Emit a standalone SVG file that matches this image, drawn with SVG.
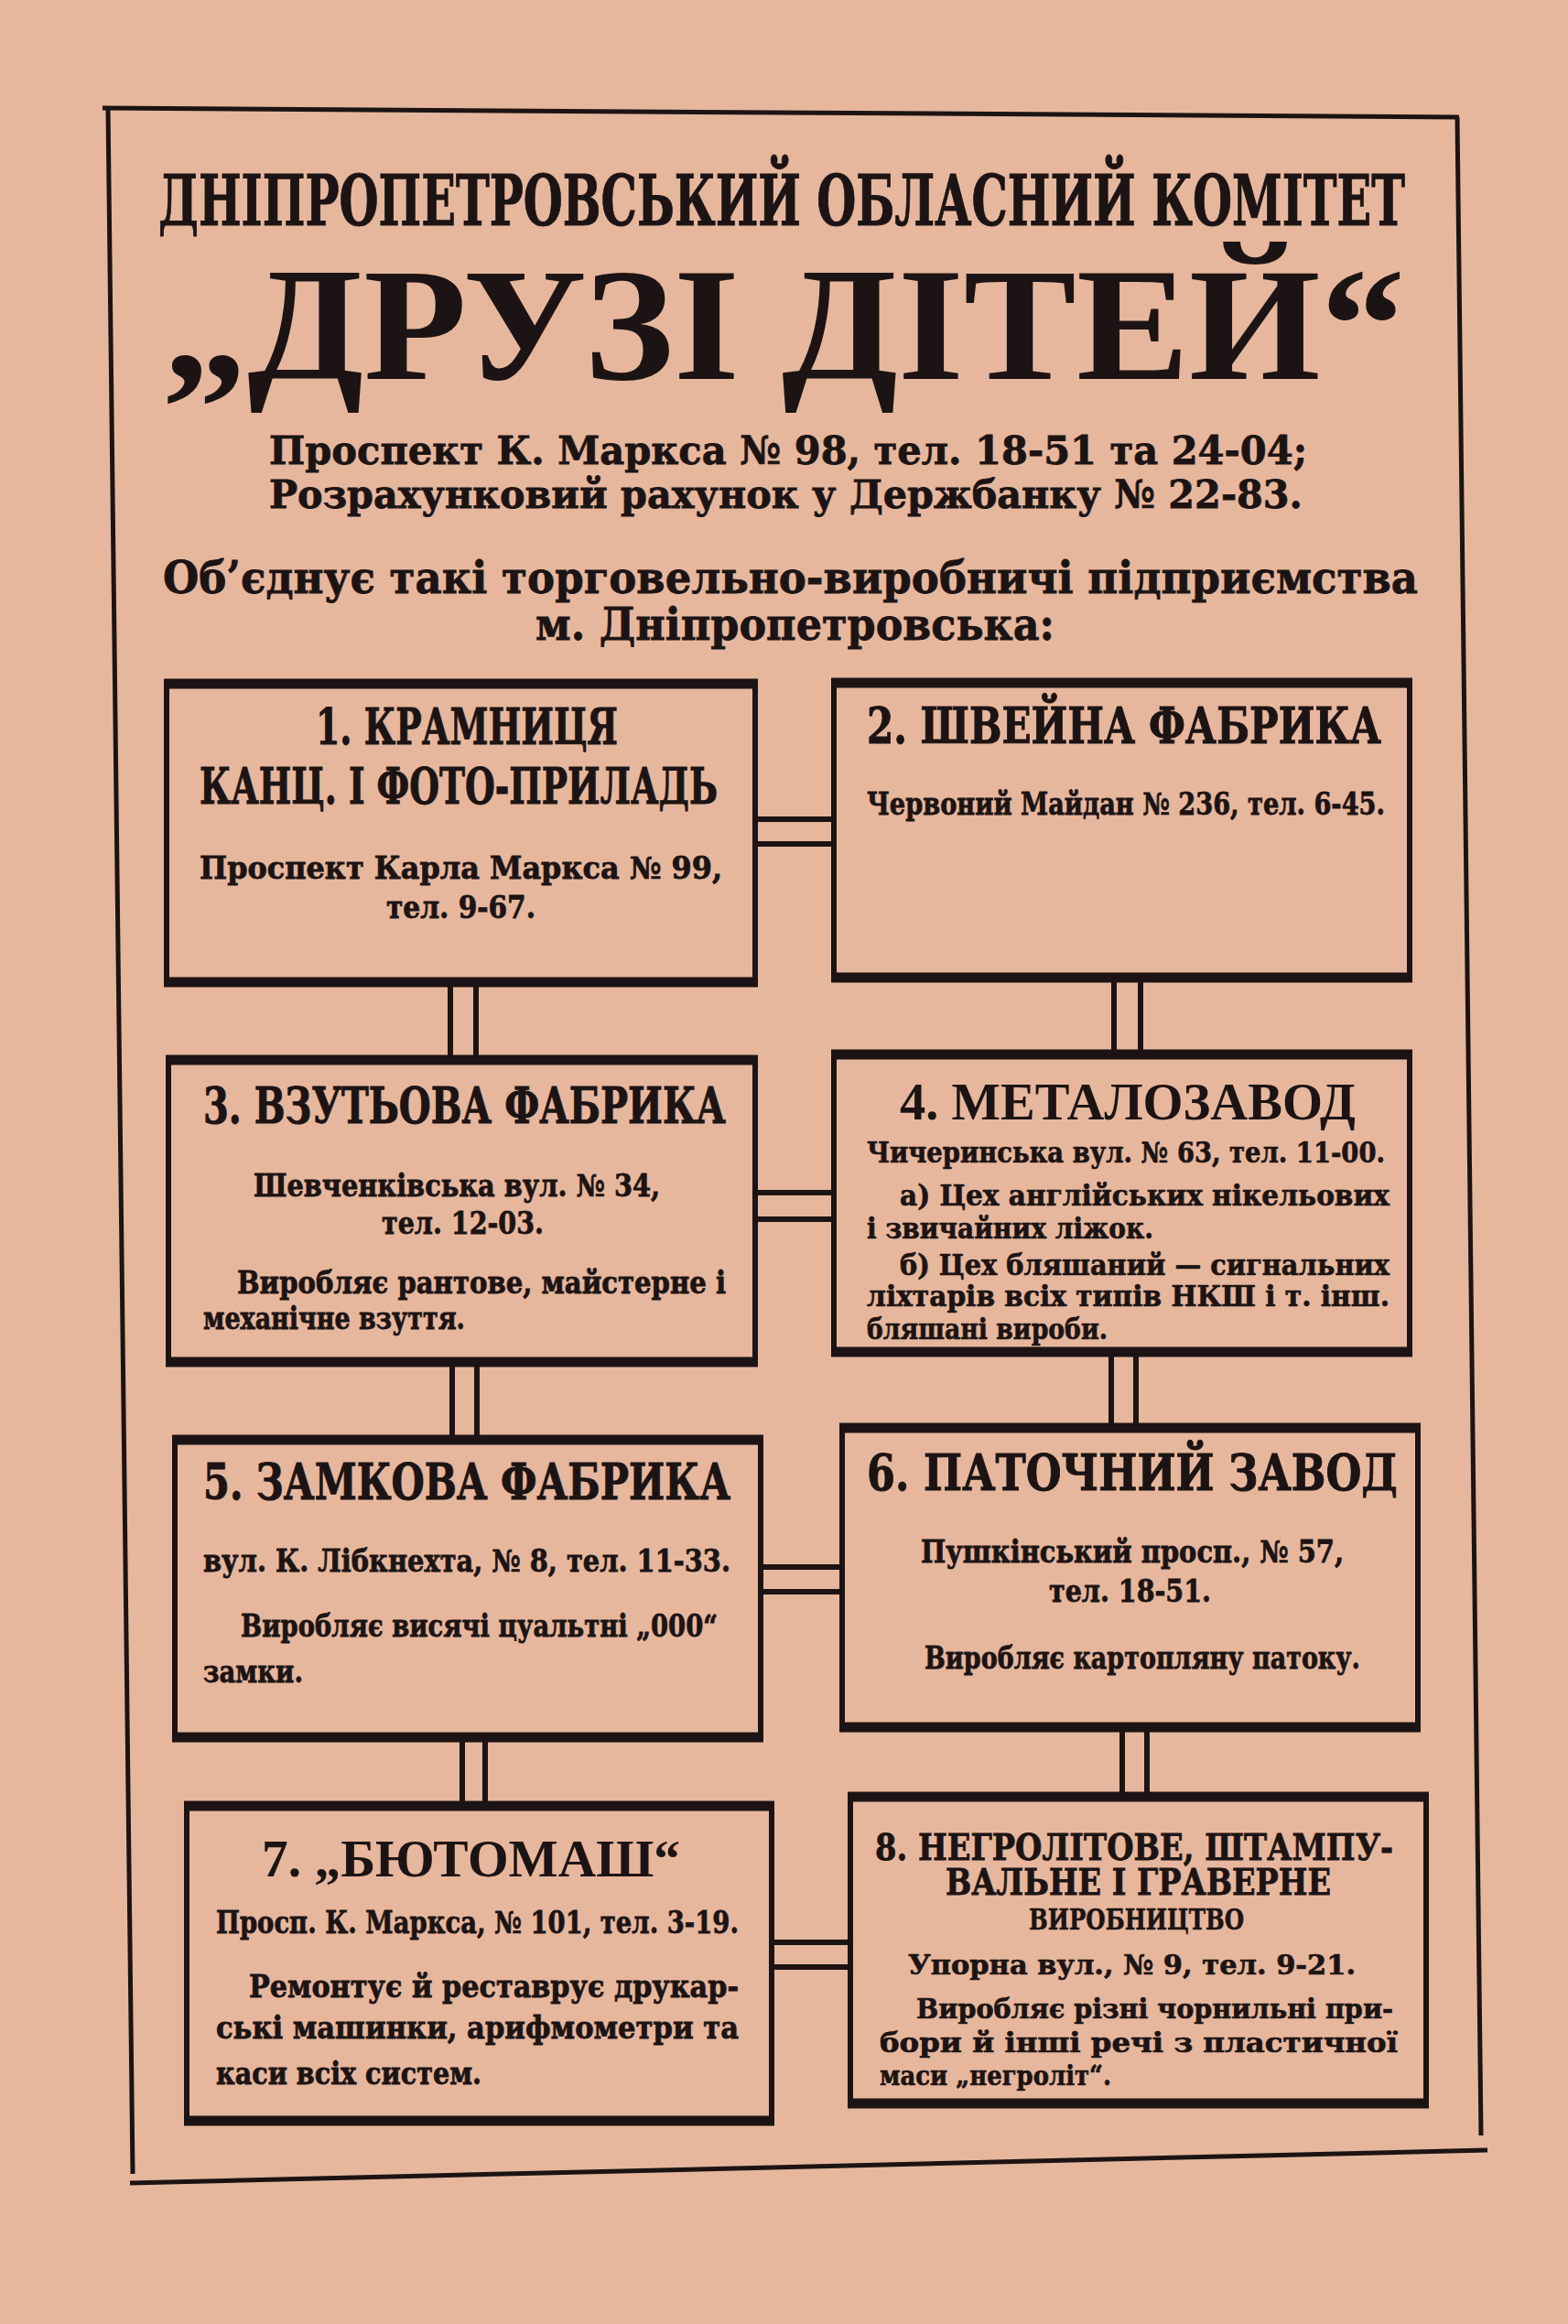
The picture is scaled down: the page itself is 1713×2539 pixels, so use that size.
<svg xmlns="http://www.w3.org/2000/svg" width="1713" height="2539" viewBox="0 0 1713 2539">
<style>
.bg{fill:#e7b79d}
text{font-family:"DejaVu Serif","Liberation Serif",serif;font-weight:bold;fill:#1c1414}
.t1{font-size:76px;stroke:#1c1414;stroke-width:1}
.t2{font-family:"Liberation Serif","DejaVu Serif",serif;font-size:175px}
.t3{font-size:43px;stroke:#1c1414;stroke-width:0.8}
.t5{font-size:49px;stroke:#1c1414;stroke-width:0.8}
.hd{font-size:55px;stroke:#1c1414;stroke-width:1}
.hd2{font-family:"Liberation Serif","DejaVu Serif",serif;font-size:58px}
.hd8{font-size:39px;stroke:#1c1414;stroke-width:0.8}
.hd8s{font-size:31px;stroke:#1c1414;stroke-width:0.6}
.bd{font-size:33px;stroke:#1c1414;stroke-width:0.8}
.bd4{font-size:31px;stroke:#1c1414;stroke-width:0.7}
.bd8{font-size:30px;stroke:#1c1414;stroke-width:0.7}
.frame{stroke:#1c1414;fill:none;stroke-width:5}
.box{fill:none;stroke:#1c1414;stroke-width:6}
.edge{stroke:#1c1414;stroke-width:11}
.conn{stroke:#1c1414;stroke-width:6}
</style>
<rect class="bg" x="0" y="0" width="1713" height="2539"/>

<g id="frame">
<line class="frame" x1="112" y1="118" x2="1594" y2="128" stroke-width="6"/>
<line class="frame" x1="118" y1="118" x2="145" y2="2375" stroke-width="4"/>
<line class="frame" x1="1592" y1="128" x2="1618" y2="2333" stroke-width="4"/>
<line class="frame" x1="142" y1="2385" x2="1625" y2="2349" stroke-width="8"/>
</g>

<g id="header">
<text class="t1" x="173" y="246" textLength="1362" lengthAdjust="spacingAndGlyphs">ДНІПРОПЕТРОВСЬКИЙ ОБЛАСНИЙ КОМІТЕТ</text>
<text class="t2" x="178" y="414" textLength="1357" lengthAdjust="spacingAndGlyphs">„ДРУЗІ ДІТЕЙ“</text>
<text class="t3" x="294" y="507" textLength="1134" lengthAdjust="spacingAndGlyphs">Проспект К. Маркса № 98, тел. 18-51 та 24-04;</text>
<text class="t3" x="294" y="555" textLength="1129" lengthAdjust="spacingAndGlyphs">Розрахунковий рахунок у Держбанку № 22-83.</text>
<text class="t5" x="178" y="648" textLength="1371" lengthAdjust="spacingAndGlyphs">Об’єднує такі торговельно-виробничі підприємства</text>
<text class="t5" x="585" y="699" textLength="567" lengthAdjust="spacingAndGlyphs">м. Дніпропетровська:</text>
</g>

<g id="connectors">
<line class="conn" x1="825" y1="895" x2="911" y2="895"/>
<line class="conn" x1="825" y1="922" x2="911" y2="922"/>
<line class="conn" x1="825" y1="1303" x2="911" y2="1303"/>
<line class="conn" x1="825" y1="1332" x2="911" y2="1332"/>
<line class="conn" x1="831" y1="1712" x2="920" y2="1712"/>
<line class="conn" x1="831" y1="1739" x2="920" y2="1739"/>
<line class="conn" x1="843" y1="2122" x2="929" y2="2122"/>
<line class="conn" x1="843" y1="2149" x2="929" y2="2149"/>
<line class="conn" x1="492" y1="1073" x2="492" y2="1158"/>
<line class="conn" x1="520" y1="1073" x2="520" y2="1158"/>
<line class="conn" x1="1217" y1="1068" x2="1217" y2="1152"/>
<line class="conn" x1="1246" y1="1068" x2="1246" y2="1152"/>
<line class="conn" x1="494" y1="1488" x2="494" y2="1573"/>
<line class="conn" x1="521" y1="1488" x2="521" y2="1573"/>
<line class="conn" x1="1214" y1="1477" x2="1214" y2="1560"/>
<line class="conn" x1="1241" y1="1477" x2="1241" y2="1560"/>
<line class="conn" x1="505" y1="1898" x2="505" y2="1973"/>
<line class="conn" x1="530" y1="1898" x2="530" y2="1973"/>
<line class="conn" x1="1226" y1="1887" x2="1226" y2="1963"/>
<line class="conn" x1="1253" y1="1887" x2="1253" y2="1963"/>
</g>

<g id="node1">
<rect class="box" x="182" y="747" width="643" height="326"/>
<line class="edge" x1="179" y1="747" x2="828" y2="747"/>
<line class="edge" x1="179" y1="1073" x2="828" y2="1073"/>
<text class="hd" x="345" y="813" textLength="330" lengthAdjust="spacingAndGlyphs">1. КРАМНИЦЯ</text>
<text class="hd" x="218" y="878" textLength="566" lengthAdjust="spacingAndGlyphs">КАНЦ. І ФОТО-ПРИЛАДЬ</text>
<text class="bd" x="218" y="960" textLength="571" lengthAdjust="spacingAndGlyphs">Проспект Карла Маркса № 99,</text>
<text class="bd" x="422" y="1003" textLength="163" lengthAdjust="spacingAndGlyphs">тел. 9-67.</text>
</g>

<g id="node2">
<rect class="box" x="911" y="746" width="629" height="322"/>
<line class="edge" x1="908" y1="746" x2="1543" y2="746"/>
<line class="edge" x1="908" y1="1068" x2="1543" y2="1068"/>
<text class="hd" x="947" y="812" textLength="562" lengthAdjust="spacingAndGlyphs">2. ШВЕЙНА ФАБРИКА</text>
<text class="bd" x="947" y="890" textLength="566" lengthAdjust="spacingAndGlyphs">Червоний Майдан № 236, тел. 6-45.</text>
</g>

<g id="node3">
<rect class="box" x="184" y="1158" width="641" height="330"/>
<line class="edge" x1="181" y1="1158" x2="828" y2="1158"/>
<line class="edge" x1="181" y1="1488" x2="828" y2="1488"/>
<text class="hd" x="222" y="1227" textLength="571" lengthAdjust="spacingAndGlyphs">3. ВЗУТЬОВА ФАБРИКА</text>
<text class="bd" x="277" y="1307" textLength="444" lengthAdjust="spacingAndGlyphs">Шевченківська вул. № 34,</text>
<text class="bd" x="417" y="1348" textLength="177" lengthAdjust="spacingAndGlyphs">тел. 12-03.</text>
<text class="bd" x="259" y="1413" textLength="534" lengthAdjust="spacingAndGlyphs">Виробляє рантове, майстерне і</text>
<text class="bd" x="222" y="1452" textLength="286" lengthAdjust="spacingAndGlyphs">механічне взуття.</text>
</g>

<g id="node4">
<rect class="box" x="911" y="1152" width="629" height="325"/>
<line class="edge" x1="908" y1="1152" x2="1543" y2="1152"/>
<line class="edge" x1="908" y1="1477" x2="1543" y2="1477"/>
<text class="hd2" x="983" y="1223" textLength="498" lengthAdjust="spacingAndGlyphs">4. МЕТАЛОЗАВОД</text>
<text class="bd4" x="947" y="1270" textLength="566" lengthAdjust="spacingAndGlyphs">Чичеринська вул. № 63, тел. 11-00.</text>
<text class="bd4" x="983" y="1317" textLength="535" lengthAdjust="spacingAndGlyphs">а) Цех англійських нікельових</text>
<text class="bd4" x="947" y="1353" textLength="313" lengthAdjust="spacingAndGlyphs">і звичайних ліжок.</text>
<text class="bd4" x="983" y="1393" textLength="535" lengthAdjust="spacingAndGlyphs">б) Цех бляшаний — сигнальних</text>
<text class="bd4" x="947" y="1427" textLength="571" lengthAdjust="spacingAndGlyphs">ліхтарів всіх типів НКШ і т. інш.</text>
<text class="bd4" x="947" y="1463" textLength="263" lengthAdjust="spacingAndGlyphs">бляшані вироби.</text>
</g>

<g id="node5">
<rect class="box" x="191" y="1573" width="640" height="325"/>
<line class="edge" x1="188" y1="1573" x2="834" y2="1573"/>
<line class="edge" x1="188" y1="1898" x2="834" y2="1898"/>
<text class="hd" x="222" y="1638" textLength="576" lengthAdjust="spacingAndGlyphs">5. ЗАМКОВА ФАБРИКА</text>
<text class="bd" x="222" y="1717" textLength="576" lengthAdjust="spacingAndGlyphs">вул. К. Лібкнехта, № 8, тел. 11-33.</text>
<text class="bd" x="263" y="1788" textLength="521" lengthAdjust="spacingAndGlyphs">Виробляє висячі цуальтні „000“</text>
<text class="bd" x="222" y="1838" textLength="109" lengthAdjust="spacingAndGlyphs">замки.</text>
</g>

<g id="node6">
<rect class="box" x="920" y="1560" width="629" height="327"/>
<line class="edge" x1="917" y1="1560" x2="1552" y2="1560"/>
<line class="edge" x1="917" y1="1887" x2="1552" y2="1887"/>
<text class="hd" x="947" y="1628" textLength="580" lengthAdjust="spacingAndGlyphs">6. ПАТОЧНИЙ ЗАВОД</text>
<text class="bd" x="1006" y="1707" textLength="462" lengthAdjust="spacingAndGlyphs">Пушкінський просп., № 57,</text>
<text class="bd" x="1146" y="1750" textLength="177" lengthAdjust="spacingAndGlyphs">тел. 18-51.</text>
<text class="bd" x="1010" y="1823" textLength="476" lengthAdjust="spacingAndGlyphs">Виробляє картопляну патоку.</text>
</g>

<g id="node7">
<rect class="box" x="204" y="1973" width="639" height="344"/>
<line class="edge" x1="201" y1="1973" x2="846" y2="1973"/>
<line class="edge" x1="201" y1="2317" x2="846" y2="2317"/>
<text class="hd2" x="286" y="2050" textLength="457" lengthAdjust="spacingAndGlyphs">7. „БЮТОМАШ“</text>
<text class="bd" x="236" y="2112" textLength="571" lengthAdjust="spacingAndGlyphs">Просп. К. Маркса, № 101, тел. 3-19.</text>
<text class="bd" x="272" y="2182" textLength="535" lengthAdjust="spacingAndGlyphs">Ремонтує й реставрує друкар-</text>
<text class="bd" x="236" y="2227" textLength="571" lengthAdjust="spacingAndGlyphs">ські машинки, арифмометри та</text>
<text class="bd" x="236" y="2277" textLength="290" lengthAdjust="spacingAndGlyphs">каси всіх систем.</text>
</g>

<g id="node8">
<rect class="box" x="929" y="1963" width="629" height="335"/>
<line class="edge" x1="926" y1="1963" x2="1561" y2="1963"/>
<line class="edge" x1="926" y1="2298" x2="1561" y2="2298"/>
<text class="hd8" x="956" y="2032" textLength="566" lengthAdjust="spacingAndGlyphs">8. НЕГРОЛІТОВЕ, ШТАМПУ-</text>
<text class="hd8" x="1033" y="2070" textLength="421" lengthAdjust="spacingAndGlyphs">ВАЛЬНЕ І ГРАВЕРНЕ</text>
<text class="hd8s" x="1124" y="2108" textLength="235" lengthAdjust="spacingAndGlyphs">ВИРОБНИЦТВО</text>
<text class="bd8" x="992" y="2157" textLength="489" lengthAdjust="spacingAndGlyphs">Упорна вул., № 9, тел. 9-21.</text>
<text class="bd8" x="1001" y="2205" textLength="521" lengthAdjust="spacingAndGlyphs">Виробляє різні чорнильні при-</text>
<text class="bd8" x="961" y="2242" textLength="566" lengthAdjust="spacingAndGlyphs">бори й інші речі з пластичної</text>
<text class="bd8" x="961" y="2278" textLength="253" lengthAdjust="spacingAndGlyphs">маси „негроліт“.</text>
</g>
</svg>
